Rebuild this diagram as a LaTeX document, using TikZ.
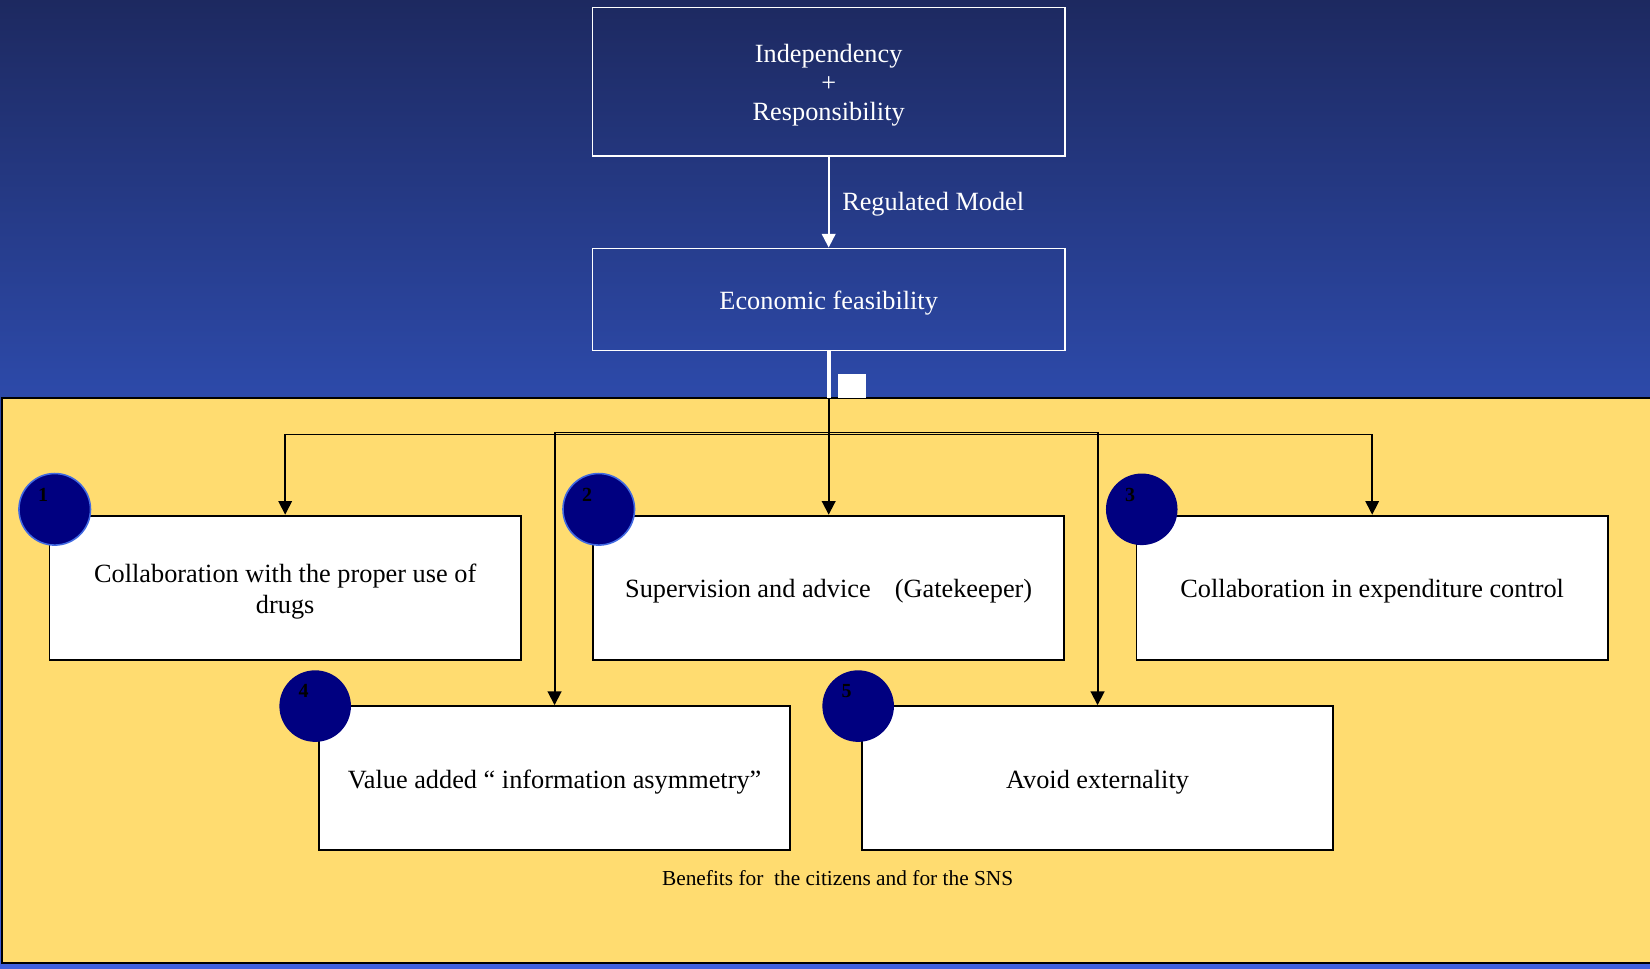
\documentclass[tikz,border=0pt]{standalone}
\usepackage{fontspec}
\setmainfont{Liberation Serif}
\usetikzlibrary{arrows.meta}
\definecolor{bgtop}{RGB}{29,41,96}
\definecolor{bgmid}{RGB}{45,74,170}
\definecolor{bgbot}{RGB}{64,96,220}
\definecolor{yel}{RGB}{255,220,112}
\definecolor{navyc}{RGB}{0,0,128}
\definecolor{rimc}{RGB}{65,105,225}
\begin{document}
\begin{tikzpicture}[x=1pt,y=-1pt,
 big/.style={font=\fontsize{25}{28}\selectfont,align=center,inner sep=0},
 topbox/.style={draw=white,line width=1.6pt,minimum width=449pt,inner sep=0},
 wbox/.style={draw=black,fill=white,line width=1.8pt,minimum width=448pt,minimum height=137pt,inner sep=0},
 num/.style={circle,fill=navyc,minimum size=68pt,inner sep=0},
 rim/.style={draw=rimc,line width=1.5pt},
 numtxt/.style={font=\fontsize{19}{19}\selectfont\bfseries,text=black,inner sep=0},
 conn/.style={draw=black,line width=1.8pt,-{Triangle[length=13pt,width=13pt]}},
 thinconn/.style={conn,line width=1.4pt},
]
\useasboundingbox (0,0) rectangle (1568,920);
\shade[top color=bgtop,bottom color=bgmid] (0,0) rectangle (1568,378);
\shade[top color=bgmid,bottom color=bgbot] (0,378) rectangle (1568,920);
\draw[fill=yel,line width=1.5pt] (2,378) rectangle (1580,915);

% top part
\node[topbox,minimum height=141pt] (ind) at (787.5,77.5) {};
\node[big,text=white] (indt) at ([yshift=-3.5pt]ind.center) {Independency\\+\\Responsibility};
\node[topbox,minimum height=97pt] (eco) at (787.5,284.5) {};
\node[big,text=white] (ecot) at ([yshift=-3.5pt]eco.center) {Economic feasibility};
\draw[white,line width=1.8pt,-{Triangle[length=13pt,width=13pt]}] (ind.south) -- (eco.north)
  node[midway,right=12pt,yshift=-2pt,text=white,big] (reg) {Regulated Model};
\node[fill=white,minimum width=27pt,minimum height=23pt,inner sep=0] (sq) at (809.5,366.5) {};

\coordinate (ytop) at (787.5,378);
\coordinate (j) at (787.5,411);
\coordinate (j2) at (787.5,413);
\draw[white,line width=3.5pt] (eco.south) -- (ytop);
\draw[black,line width=2pt] (ytop) -- (j);

% boxes
\node[wbox] (b1) at (271,558.5) {};
\node[wbox] (b2) at (787.5,558.5) {};
\node[wbox] (b3) at (1304,558.5) {};
\node[wbox] (b4) at (527,739.5) {};
\node[wbox] (b5) at (1043,739.5) {};
\node[big,font=\fontsize{25}{29}\selectfont] (t1) at ([yshift=-3.5pt]b1.center) {Collaboration with the proper use of\\drugs};
\node[big] (t2) at ([yshift=-3.5pt]b2.center) {Supervision and advice\hspace{23pt}(Gatekeeper)};
\node[big] (t3) at ([yshift=-3.5pt]b3.center) {Collaboration in expenditure control};
\node[big] (t4) at ([yshift=-3.5pt]b4.center) {Value added “ information asymmetry”};
\node[big] (t5) at ([yshift=-3.5pt]b5.center) {Avoid externality};

% connectors
\draw[conn] (j) -- (b2.north);
\draw[conn] (j) -| (b4.north);
\draw[conn] (j) -| (b5.north);
\draw[thinconn] (j2) -| (b1.north);
\draw[thinconn] (j2) -| (b3.north);

% number circles
\node[num,rim] (c1) at (52,484) {};
\node[num,rim] (c2) at (569,484) {};
\node[num] (c3) at (1085,484) {};
\node[num] (c4) at (299.5,671) {};
\node[num] (c5) at (815.5,671) {};
\node[numtxt] (n1) at ([xshift=-11pt,yshift=14pt]c1.center) {1};
\node[numtxt] (n2) at ([xshift=-11pt,yshift=14pt]c2.center) {2};
\node[numtxt] (n3) at ([xshift=-11pt,yshift=14pt]c3.center) {3};
\node[numtxt] (n4) at ([xshift=-11pt,yshift=14pt]c4.center) {4};
\node[numtxt] (n5) at ([xshift=-11pt,yshift=14pt]c5.center) {5};

\node[font=\fontsize{20.3}{22}\selectfont] (ben) at (796,834) {Benefits for\ \ the citizens and for the SNS};
\end{tikzpicture}
\end{document}
